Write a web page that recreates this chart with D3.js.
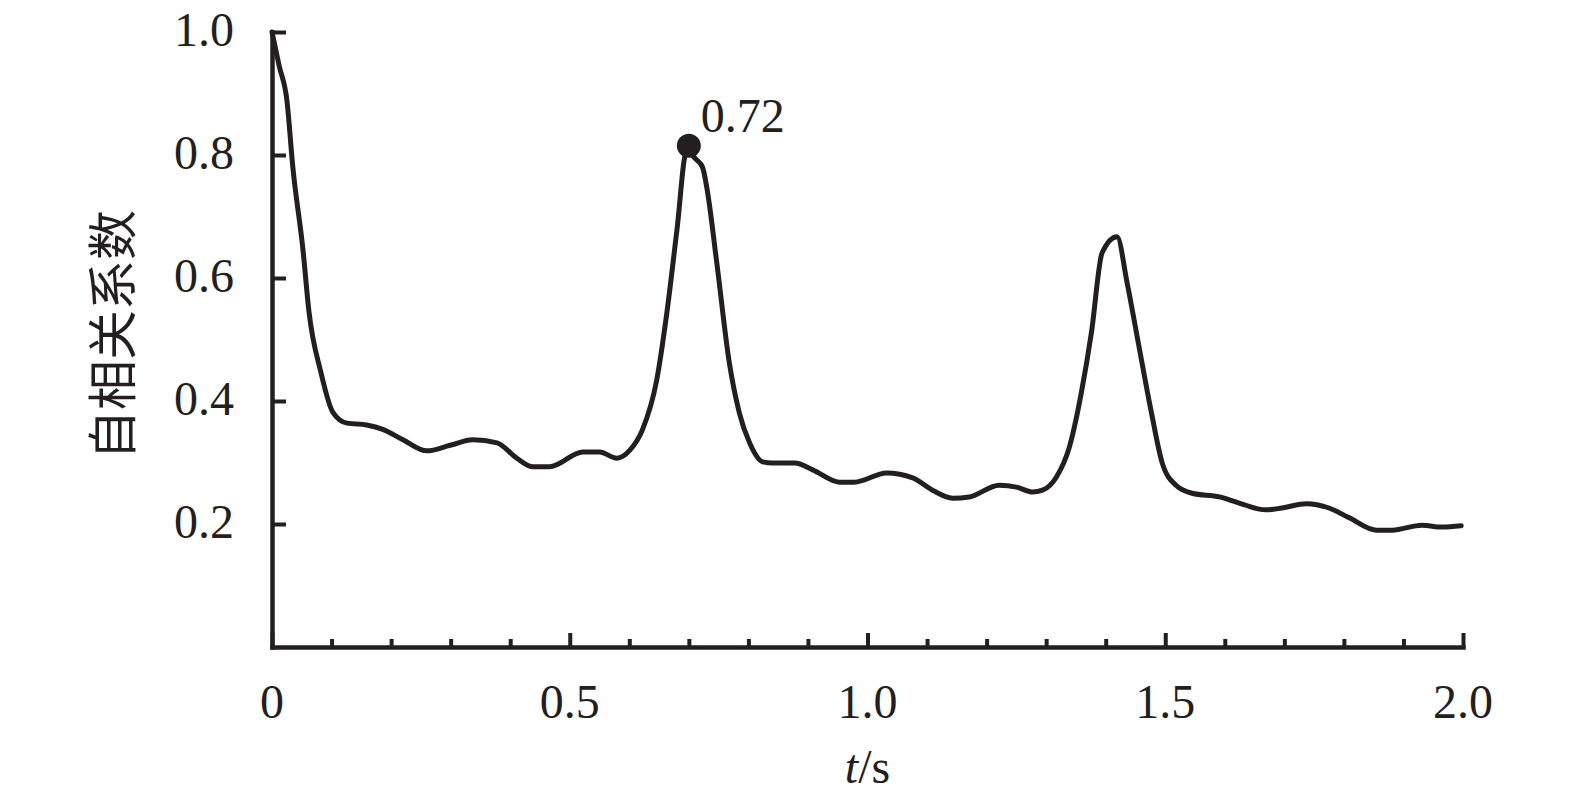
<!DOCTYPE html>
<html>
<head>
<meta charset="utf-8">
<script src="https://cdn.jsdelivr.net/npm/d3@7"></script>
<style>
  html, body { margin: 0; padding: 0; background: #fff; }
  svg { display: block; }
</style>
</head>
<body>
<svg id="chart" width="1575" height="809"></svg>
<script>
// ---- Data ----
const timeValues = [0, 0.012, 0.025, 0.035, 0.052, 0.062, 0.082, 0.102, 0.126, 0.159, 0.186, 0.220, 0.260, 0.299, 0.337, 0.378, 0.411, 0.438, 0.466, 0.522, 0.550, 0.579, 0.601, 0.622, 0.646, 0.663, 0.680, 0.696, 0.713, 0.723, 0.730, 0.747, 0.768, 0.785, 0.802, 0.824, 0.841, 0.878, 0.908, 0.953, 0.978, 1.032, 1.076, 1.109, 1.143, 1.171, 1.221, 1.250, 1.277, 1.294, 1.317, 1.339, 1.359, 1.376, 1.394, 1.419, 1.436, 1.456, 1.477, 1.495, 1.518, 1.545, 1.591, 1.624, 1.669, 1.696, 1.737, 1.775, 1.809, 1.854, 1.881, 1.931, 1.965, 1.997];
const autocorrValues = [1.0, 0.945, 0.889, 0.780, 0.646, 0.546, 0.447, 0.382, 0.364, 0.361, 0.354, 0.337, 0.319, 0.328, 0.337, 0.332, 0.307, 0.293, 0.293, 0.317, 0.317, 0.307, 0.320, 0.353, 0.434, 0.543, 0.678, 0.805, 0.792, 0.780, 0.748, 0.624, 0.462, 0.380, 0.332, 0.301, 0.299, 0.299, 0.288, 0.268, 0.268, 0.283, 0.275, 0.255, 0.242, 0.244, 0.263, 0.260, 0.252, 0.255, 0.276, 0.325, 0.413, 0.511, 0.641, 0.667, 0.592, 0.488, 0.380, 0.299, 0.263, 0.250, 0.244, 0.234, 0.223, 0.226, 0.233, 0.226, 0.210, 0.190, 0.190, 0.198, 0.195, 0.197];
const markerPoint = { t: 0.70, v: 0.815, label: "0.72" };
const xMajorTicks = [0, 0.5, 1.0, 1.5, 2.0];
const xMajorLabels = ["0", "0.5", "1.0", "1.5", "2.0"];
const xMinorTicks = [0.1, 0.2, 0.3, 0.4, 0.6, 0.7, 0.8, 0.9, 1.1, 1.2, 1.3, 1.4, 1.6, 1.7, 1.8, 1.9];
const yTicks = [0.2, 0.4, 0.6, 0.8, 1.0];
const yTickLabels = ["0.2", "0.4", "0.6", "0.8", "1.0"];
const xTitleItalic = "t";
const xTitleRest = "/s";
const yTitle = "自相关系数";

// ---- Layout ----
const ink = "#231f20";
const serif = "'Liberation Serif', 'DejaVu Serif', serif";
const svg = d3.select("#chart");
const plotLeft = 272, plotRight = 1463, plotTop = 32, plotBottom = 647;

const x = d3.scaleLinear().domain([0, 2.0]).range([plotLeft, plotRight]);
const y = d3.scaleLinear().domain([0, 1.0]).range([plotBottom, plotTop]);

const data = timeValues.map((t, i) => ({ t, v: autocorrValues[i] }));

// Axes (ticks pointing inward)
const xAxisMajor = d3.axisBottom(x).tickValues(xMajorTicks).tickSize(-14).tickSizeOuter(0).tickFormat("");
const xAxisMinor = d3.axisBottom(x).tickValues(xMinorTicks).tickSize(-8).tickFormat("");
const yAxis = d3.axisLeft(y).tickValues(yTicks).tickSize(-14).tickSizeOuter(0).tickFormat("");

function styleAxis(g) {
  g.selectAll("path.domain").attr("stroke", ink).attr("stroke-width", 4.5).attr("stroke-linecap", "square");
  g.selectAll(".tick line").attr("stroke", ink).attr("stroke-width", 4);
}

const gxMinor = svg.append("g").attr("transform", `translate(0,${plotBottom})`).call(xAxisMinor);
gxMinor.select("path.domain").remove();
styleAxis(gxMinor);
const gx = svg.append("g").attr("transform", `translate(0,${plotBottom})`).call(xAxisMajor);
styleAxis(gx);
const gy = svg.append("g").attr("transform", `translate(${plotLeft},0)`).call(yAxis);
styleAxis(gy);

// Tick labels
svg.append("g").selectAll("text").data(xMajorTicks).join("text")
  .attr("x", d => x(d)).attr("y", plotBottom + 71)
  .attr("text-anchor", "middle")
  .attr("font-family", serif).attr("font-size", 48).attr("fill", ink)
  .text((d, i) => xMajorLabels[i]);

svg.append("g").selectAll("text").data(yTicks).join("text")
  .attr("x", plotLeft - 38).attr("y", d => y(d) + 14)
  .attr("text-anchor", "end")
  .attr("font-family", serif).attr("font-size", 48).attr("fill", ink)
  .text((d, i) => yTickLabels[i]);

// Axis titles
const xt = svg.append("text")
  .attr("x", x(1.0)).attr("y", 783)
  .attr("text-anchor", "middle")
  .attr("font-family", serif).attr("font-size", 48).attr("fill", ink);
xt.append("tspan").attr("font-style", "italic").text(xTitleItalic);
xt.append("tspan").text(xTitleRest);

svg.append("text")
  .attr("transform", "translate(109,335) rotate(-90)")
  .attr("text-anchor", "middle")
  .attr("dominant-baseline", "central")
  .attr("font-family", "'Noto Sans CJK SC', sans-serif")
  .attr("font-size", 50).attr("fill", ink)
  .text(yTitle);

// Curve
const line = d3.line().x(d => x(d.t)).y(d => y(d.v)).curve(d3.curveMonotoneX);
svg.append("path").datum(data)
  .attr("d", line)
  .attr("fill", "none").attr("stroke", ink).attr("stroke-width", 5)
  .attr("stroke-linejoin", "round").attr("stroke-linecap", "round");

// Marker and label
svg.append("circle")
  .attr("cx", x(markerPoint.t)).attr("cy", y(markerPoint.v)).attr("r", 12)
  .attr("fill", ink);
svg.append("text")
  .attr("x", x(markerPoint.t) + 12).attr("y", y(markerPoint.v) - 14)
  .attr("font-family", serif).attr("font-size", 48).attr("fill", ink)
  .text(markerPoint.label);
</script>
</body>
</html>
